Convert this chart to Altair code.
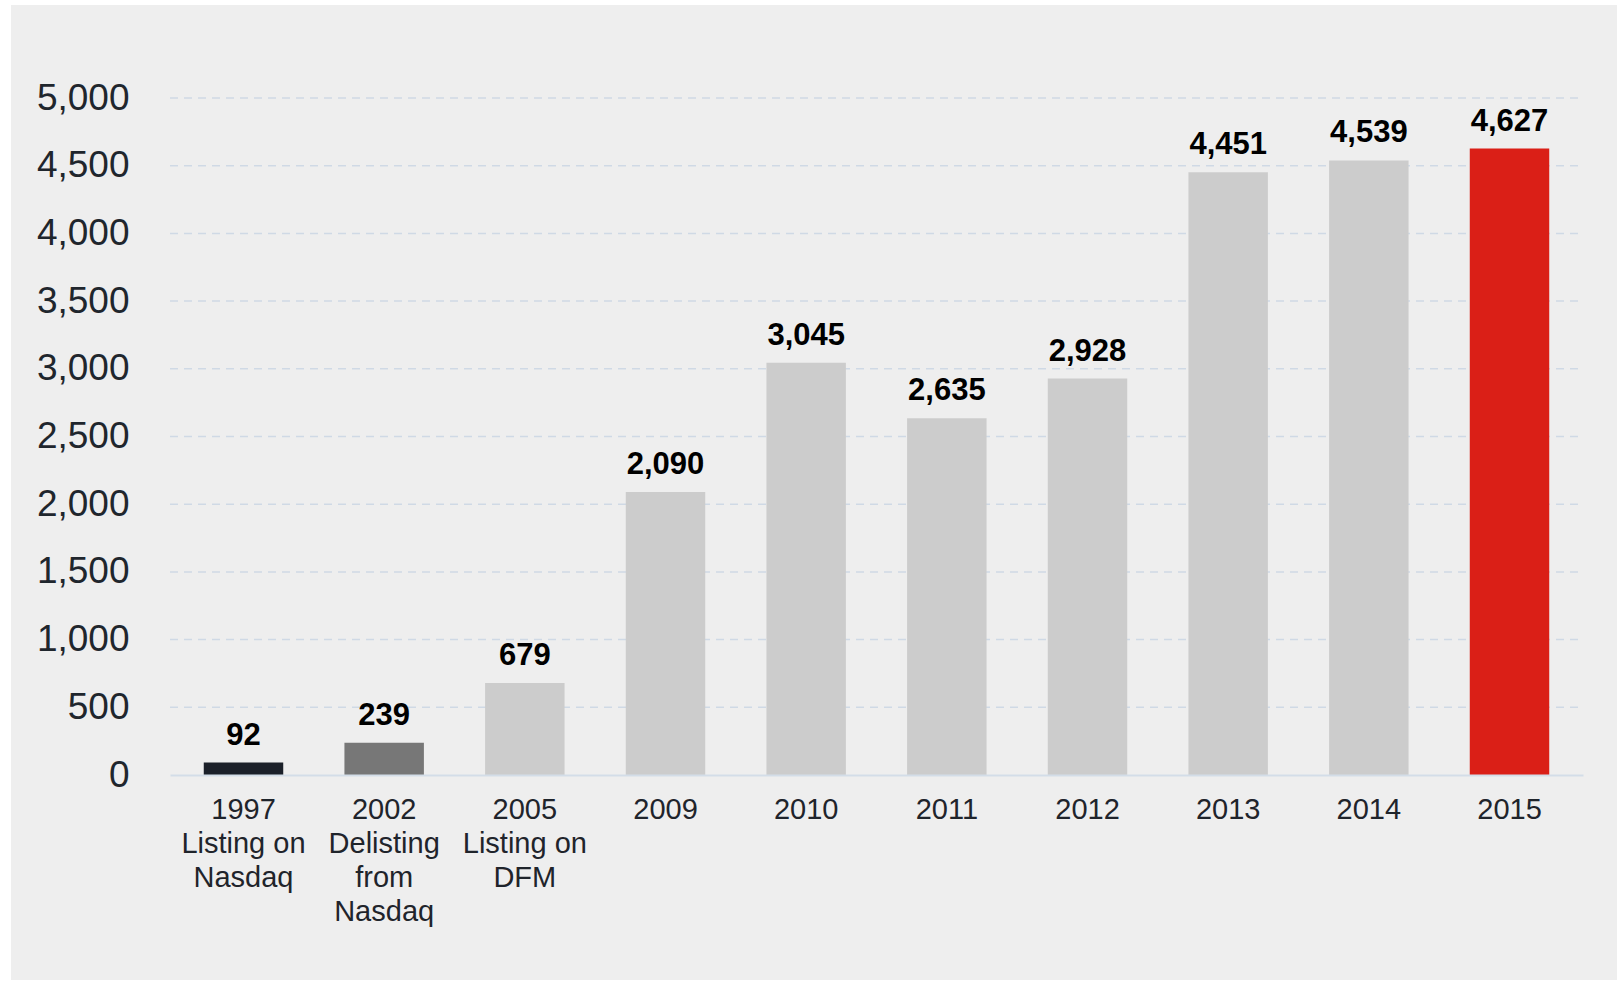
import altair as alt
import pandas as pd

categories = [
    "1997\nListing on\nNasdaq",
    "2002\nDelisting\nfrom\nNasdaq",
    "2005\nListing on\nDFM",
    "2009", "2010", "2011", "2012", "2013", "2014", "2015",
]
values = [92, 239, 679, 2090, 3045, 2635, 2928, 4451, 4539, 4627]
bar_colors = ["#1b2029", "#777777", "#cccccc", "#cccccc", "#cccccc",
              "#cccccc", "#cccccc", "#cccccc", "#cccccc", "#da1f17"]
y_ticks = list(range(0, 5001, 500))

df = pd.DataFrame({"cat": categories, "value": values})
grid_df = pd.DataFrame({"value": y_ticks[1:]})

FONT = "Liberation Sans"

x_axis = alt.Axis(
    labelExpr="split(datum.label, '\\n')",
    labelAngle=0, labelFontSize=29, labelFont=FONT, labelColor="#1f242b",
    labelLineHeight=34, labelPadding=20, labelBaseline="top",
    ticks=False, domain=True, domainColor="#d3dde8", domainWidth=2,
    grid=False, zindex=1,
)
x_scale = alt.Scale(paddingInner=0.435, paddingOuter=0.24)
y_axis = alt.Axis(
    values=y_ticks, format=",.0f", labelFontSize=37, labelFont=FONT,
    labelColor="#1f262d", labelPadding=41, ticks=False, domain=False,
    grid=False, zindex=1,
)
y_scale = alt.Scale(domain=[0, 5000], nice=False)

x_enc = alt.X("cat:N", sort=categories, title=None, scale=x_scale, axis=x_axis)
y_enc = alt.Y("value:Q", title=None, scale=y_scale, axis=y_axis)

bg = alt.Chart(df).mark_rect(color="#eeeeee", clip=False).encode(
    x=alt.value(11 - 170), x2=alt.value(1617 - 170),
    y=alt.value(5 - 98), y2=alt.value(980 - 98),
)

grid = alt.Chart(grid_df).mark_rule(
    color="#cfd9e5", strokeDash=[8, 6], strokeWidth=1.5,
).encode(
    y=y_enc,
    x=alt.value(0), x2=alt.value(1408),
)

bars = alt.Chart(df).mark_bar().encode(
    x=x_enc, y=y_enc,
    color=alt.Color("cat:N", scale=alt.Scale(domain=categories, range=bar_colors), legend=None),
)

labels = alt.Chart(df).mark_text(
    font=FONT, fontSize=31, fontWeight="bold", color="#000000",
    baseline="alphabetic", dy=-18,
).encode(
    x=x_enc,
    y=y_enc,
    text=alt.Text("value:Q", format=","),
)

chart = alt.layer(bg, grid, bars, labels).properties(
    width=1413, height=677,
    autosize=alt.AutoSizeParams(type="none"),
    padding={"left": 170, "top": 98, "right": 36, "bottom": 206},
    background="#ffffff",
).configure_view(stroke=None)

chart.save("out.html", embed_options={"renderer": "svg", "actions": False})
